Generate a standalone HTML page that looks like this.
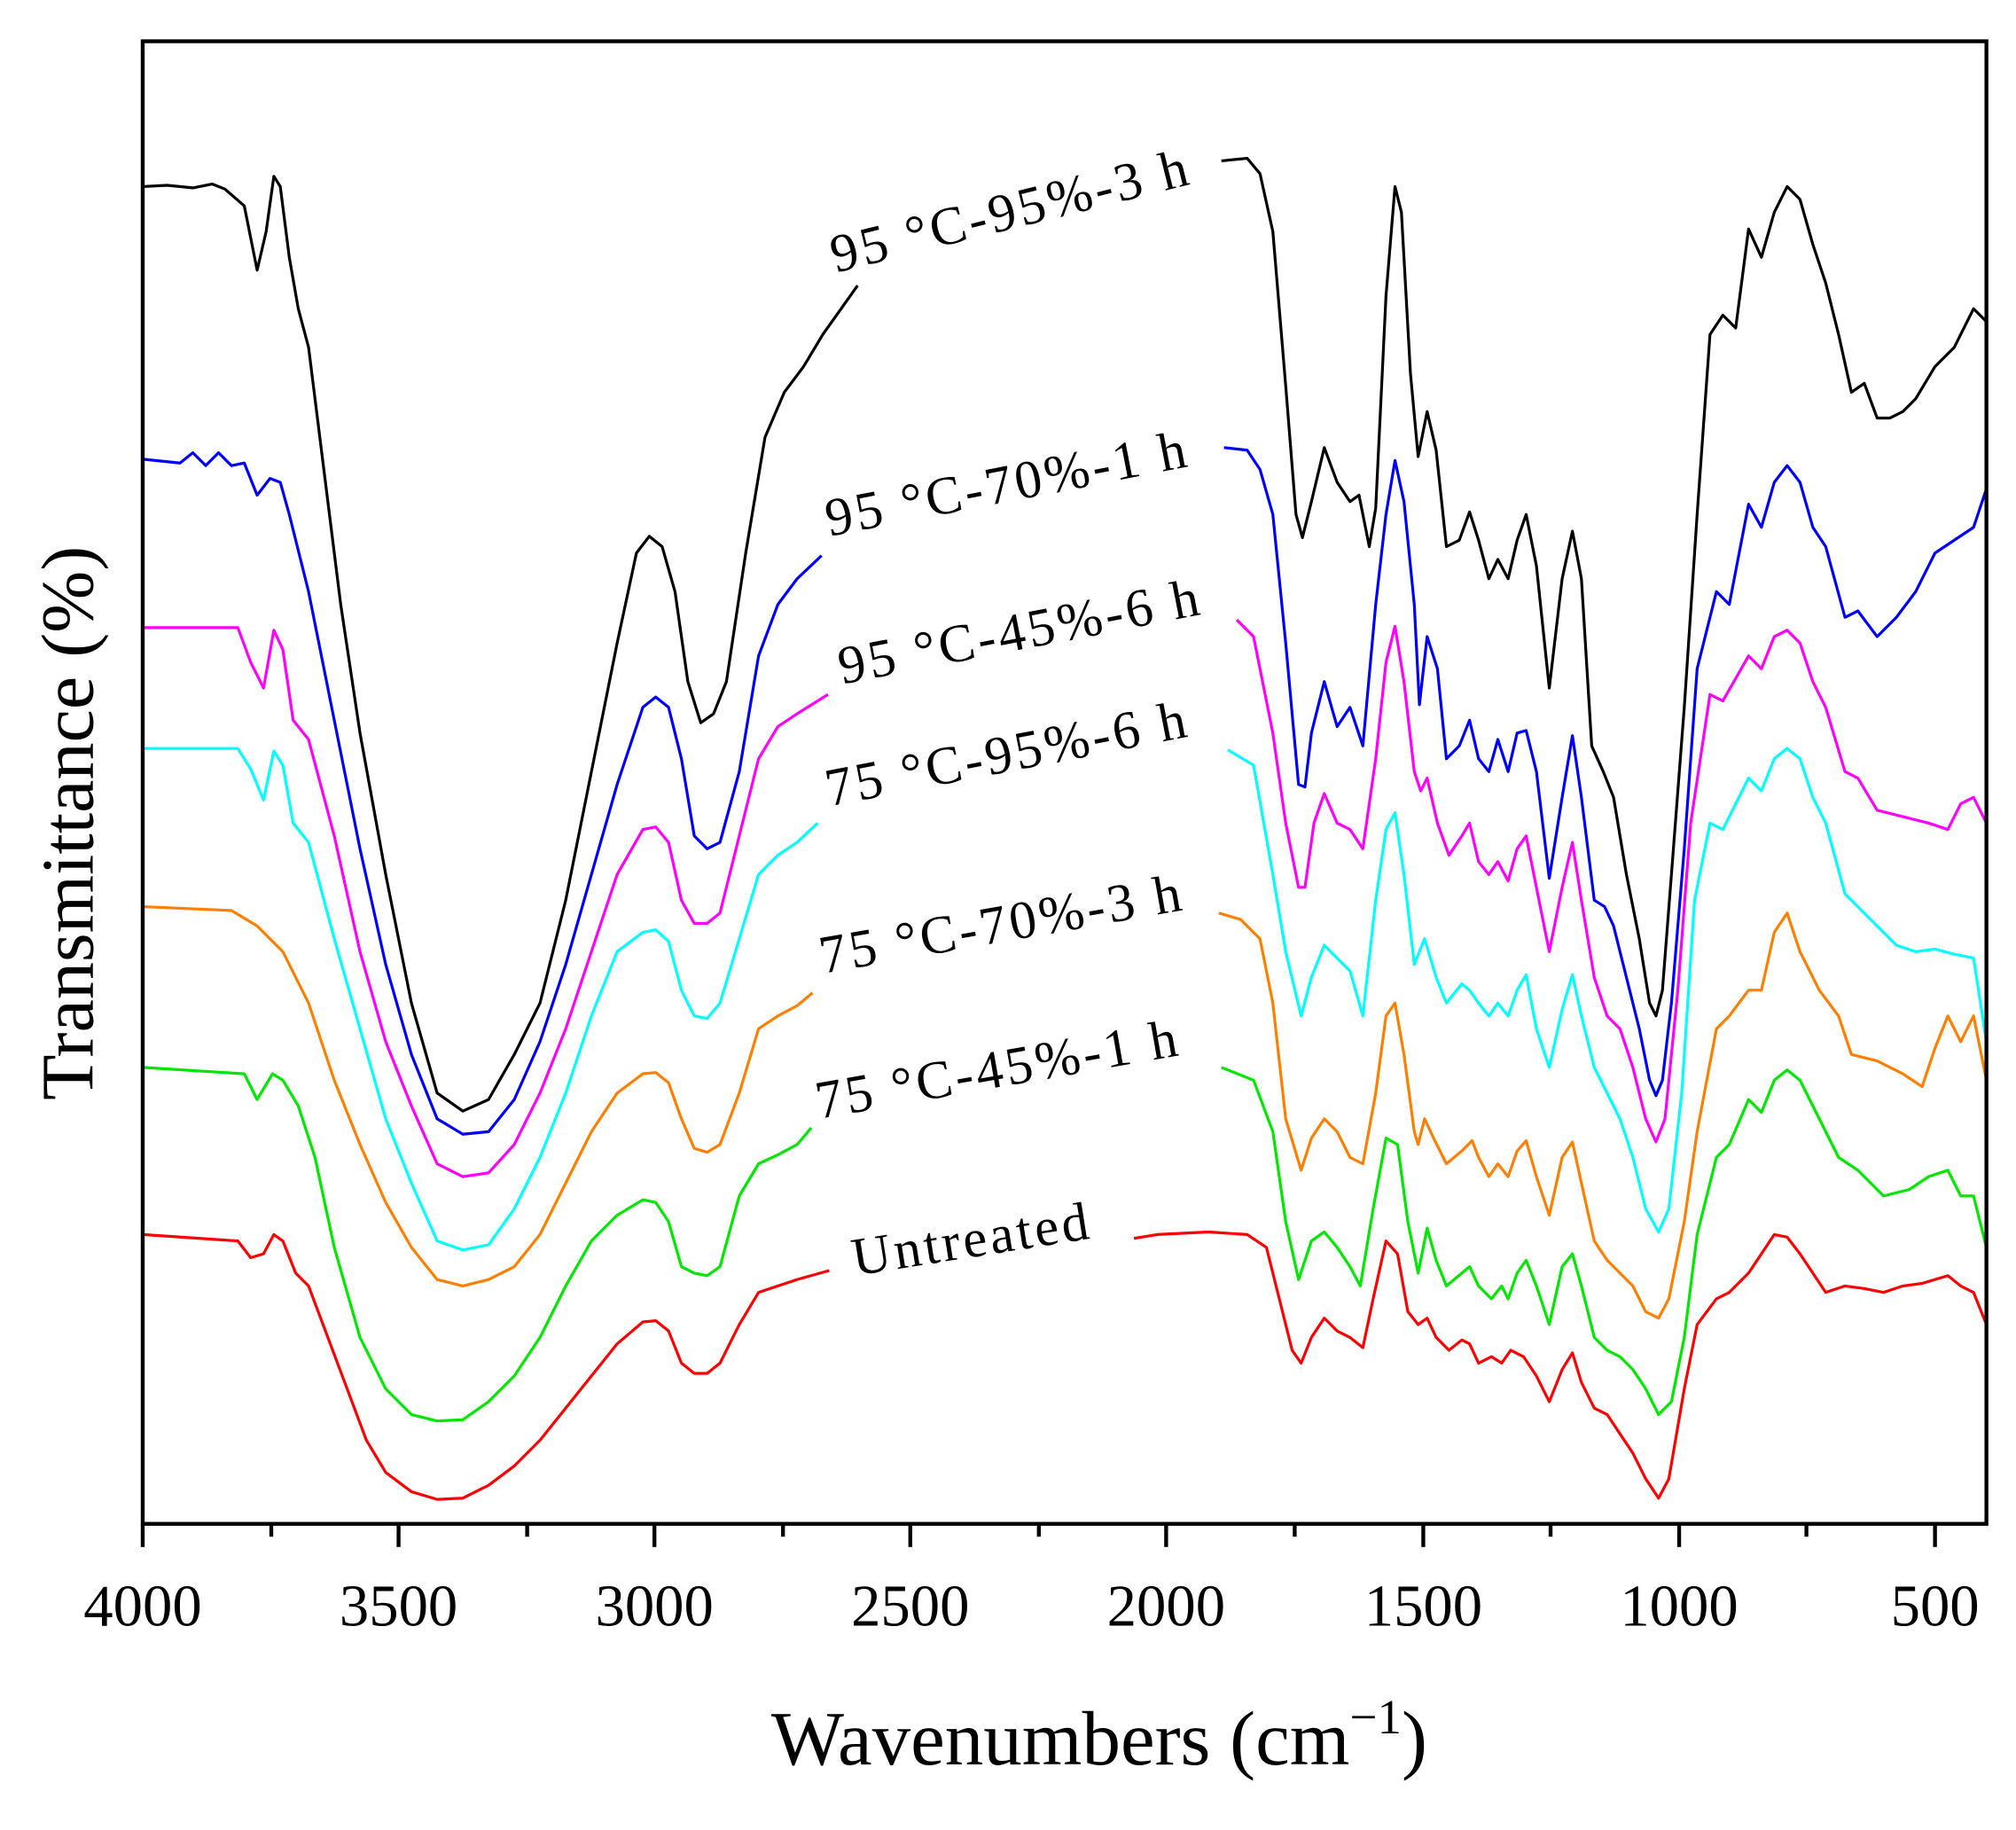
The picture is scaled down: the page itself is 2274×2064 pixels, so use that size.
<!DOCTYPE html>
<html><head><meta charset="utf-8"><style>html,body{margin:0;padding:0;background:#fff}svg{display:block}</style></head><body>
<svg width="2274" height="2064" viewBox="0 0 1568 1423" xmlns="http://www.w3.org/2000/svg" font-family="Liberation Serif, serif">
<rect width="1568" height="1423" fill="#fff"/>
<g fill="none" stroke-width="2.2" stroke-linejoin="round">
<polyline stroke="#000" points="111,145 130,144 150,146 165,143 175,147 190,160 200,210 207,180 213,137 218,145 225,200 232,240 240,270 250,350 265,470 280,570 300,680 320,780 340,850 360,864 380,855 400,820 420,780 440,700 460,600 480,500 495,430 505,417 515,425 525,460 535,530 545,562 555,555 565,530 580,430 595,340 610,305 625,285 640,260 667,222"/>
<polyline stroke="#000" points="950,125 970,123 980,135 990,180 1000,300 1008,400 1013,418 1020,390 1030,348 1040,375 1050,390 1057,385 1065,425 1070,395 1078,230 1085,145 1090,165 1097,290 1103,355 1110,320 1117,350 1125,425 1135,420 1143,398 1150,420 1158,450 1165,435 1173,450 1180,420 1187,400 1195,440 1205,535 1215,450 1223,413 1230,450 1238,580 1247,600 1255,620 1265,680 1275,730 1283,780 1288,790 1293,770 1300,680 1310,550 1320,400 1330,260 1340,245 1350,255 1360,178 1370,200 1380,165 1390,145 1400,155 1410,190 1420,220 1430,260 1440,305 1450,298 1460,325 1470,325 1480,320 1490,310 1505,285 1520,270 1535,240 1545,250"/>
<polyline stroke="#0000ff" points="111,357 140,360 150,352 160,362 170,352 180,362 190,360 200,385 210,372 218,375 225,400 240,460 260,560 280,660 300,750 320,820 340,870 360,882 380,880 400,855 420,810 440,750 460,680 480,610 500,550 510,542 520,550 530,590 540,650 550,660 560,655 575,600 590,510 605,470 620,450 639,432"/>
<polyline stroke="#0000ff" points="952,348 970,350 980,365 990,400 1000,500 1010,610 1015,612 1020,570 1030,530 1040,565 1050,550 1060,580 1070,470 1078,400 1085,358 1092,390 1100,470 1104,548 1110,495 1118,520 1125,590 1135,580 1143,560 1150,590 1158,600 1165,575 1173,600 1180,570 1187,568 1195,600 1205,683 1215,620 1223,572 1230,620 1240,700 1248,705 1255,720 1265,760 1275,800 1283,840 1288,852 1293,840 1300,780 1310,660 1320,520 1335,460 1345,470 1360,392 1370,410 1380,375 1390,362 1400,375 1410,410 1420,425 1435,480 1445,475 1460,495 1475,480 1490,460 1505,430 1520,420 1535,410 1545,380"/>
<polyline stroke="#ff00ff" points="111,488 185,488 195,515 205,535 213,490 220,505 228,560 240,575 260,650 280,740 300,810 320,860 340,905 360,915 380,912 400,890 420,850 440,800 460,740 480,680 500,645 510,643 520,655 530,700 540,718 550,718 560,710 575,650 590,590 605,565 620,555 644,540"/>
<polyline stroke="#ff00ff" points="962,482 975,495 990,570 1000,640 1010,690 1015,690 1022,640 1030,617 1040,640 1050,645 1060,660 1070,590 1078,515 1085,487 1092,530 1100,600 1105,615 1110,605 1118,640 1127,665 1137,650 1143,640 1150,670 1158,680 1165,670 1173,685 1180,660 1187,650 1195,690 1205,740 1215,690 1223,655 1230,700 1240,760 1250,790 1260,800 1270,830 1280,870 1288,888 1295,870 1305,770 1315,640 1330,540 1340,545 1360,510 1370,520 1380,495 1390,490 1400,500 1410,530 1420,550 1435,600 1445,605 1460,630 1480,635 1500,640 1515,645 1525,625 1535,620 1545,640"/>
<polyline stroke="#00ffff" points="111,582 185,582 195,598 205,622 213,584 220,595 228,640 240,655 260,730 280,800 300,870 320,920 340,965 360,972 380,968 400,940 420,900 440,850 460,790 480,740 500,725 510,723 520,732 530,770 540,790 550,792 560,780 575,730 590,680 605,665 620,655 636,640"/>
<polyline stroke="#00ffff" points="955,583 975,595 990,680 1000,740 1012,790 1020,760 1030,735 1040,745 1050,755 1060,790 1070,700 1078,645 1085,632 1092,680 1100,750 1108,730 1117,760 1125,780 1137,765 1143,770 1150,780 1158,790 1165,780 1173,790 1180,770 1187,758 1195,800 1205,830 1215,785 1223,758 1230,790 1240,830 1250,850 1260,870 1270,900 1280,940 1290,958 1298,940 1308,850 1318,700 1330,640 1340,645 1360,605 1370,615 1380,590 1390,582 1400,590 1410,620 1420,640 1435,695 1445,705 1460,720 1475,735 1490,740 1505,738 1520,742 1535,745 1545,810"/>
<polyline stroke="#ff8000" points="111,705 180,708 200,720 220,740 240,780 260,840 280,890 300,935 320,970 340,995 360,1000 380,995 400,985 420,960 440,920 460,880 480,850 500,835 510,834 520,842 530,870 540,893 550,896 560,890 575,850 590,800 605,790 620,782 632,772"/>
<polyline stroke="#ff8000" points="948,710 965,715 980,730 990,780 1000,870 1012,910 1020,885 1030,870 1040,880 1050,900 1060,905 1070,850 1078,790 1085,780 1092,820 1100,880 1103,890 1108,870 1115,885 1125,905 1137,895 1145,887 1150,900 1158,915 1165,905 1173,915 1180,895 1187,887 1195,915 1205,945 1215,900 1223,888 1230,920 1240,965 1250,980 1260,990 1270,1000 1280,1020 1290,1025 1298,1010 1310,950 1320,880 1335,800 1345,790 1360,770 1370,770 1380,725 1390,710 1400,740 1415,770 1430,790 1440,820 1460,825 1480,835 1495,845 1505,815 1515,790 1525,810 1535,790 1545,840"/>
<polyline stroke="#00e600" points="111,830 190,835 200,855 212,835 220,840 232,860 245,900 260,970 280,1040 300,1080 320,1100 340,1105 360,1104 380,1090 400,1070 420,1040 440,1000 460,965 480,945 500,933 510,935 520,950 530,985 540,990 550,992 560,985 575,930 590,905 605,898 620,890 631,877"/>
<polyline stroke="#00e600" points="950,830 975,840 990,880 1000,950 1010,995 1020,965 1030,958 1040,970 1050,985 1058,1000 1068,940 1078,885 1087,890 1095,950 1103,990 1110,955 1117,980 1125,1000 1137,990 1143,985 1150,1000 1160,1010 1168,1000 1173,1010 1180,990 1187,980 1195,1000 1205,1030 1215,985 1223,975 1230,1000 1240,1040 1250,1050 1260,1055 1270,1065 1280,1080 1290,1100 1300,1090 1310,1040 1320,960 1335,900 1345,890 1360,855 1370,865 1380,840 1390,832 1400,840 1415,870 1430,900 1445,910 1465,930 1485,925 1500,915 1515,910 1525,930 1535,930 1545,970"/>
<polyline stroke="#ff0000" points="111,960 185,965 195,978 205,975 213,960 220,965 230,990 240,1000 255,1040 270,1080 285,1120 300,1145 320,1160 340,1166 360,1165 380,1155 400,1140 420,1120 440,1095 460,1070 480,1045 500,1028 510,1027 520,1035 530,1060 540,1068 550,1068 560,1060 575,1030 590,1005 605,1000 620,995 645,988"/>
<polyline stroke="#ff0000" points="882,963 900,960 940,958 970,960 985,970 995,1010 1005,1050 1012,1060 1020,1040 1030,1025 1040,1035 1050,1040 1060,1048 1068,1010 1078,965 1087,975 1095,1020 1103,1030 1110,1025 1117,1040 1127,1050 1137,1042 1143,1045 1150,1060 1160,1055 1168,1060 1175,1050 1185,1055 1195,1070 1205,1090 1215,1065 1223,1052 1230,1075 1240,1095 1250,1100 1260,1115 1270,1130 1280,1150 1290,1165 1298,1150 1310,1080 1320,1030 1335,1010 1345,1005 1360,990 1370,975 1380,960 1390,962 1400,975 1410,990 1420,1005 1435,1000 1450,1002 1465,1005 1480,1000 1495,998 1505,995 1515,992 1525,1000 1535,1005 1545,1030"/>
</g>
<g font-size="42" fill="#000" letter-spacing="2.5">
<text transform="translate(650,212) rotate(-14)">95 °C-95%-3 h</text>
<text transform="translate(645,417) rotate(-11)">95 °C-70%-1 h</text>
<text transform="translate(655,532) rotate(-11)">95 °C-45%-6 h</text>
<text transform="translate(645,627) rotate(-11)">75 °C-95%-6 h</text>
<text transform="translate(640,757) rotate(-10)">75 °C-70%-3 h</text>
<text transform="translate(637,870) rotate(-10)">75 °C-45%-1 h</text>
<text transform="translate(665,992) rotate(-9)">Untreated</text>
</g>
<rect x="111" y="32" width="1434" height="1153" fill="none" stroke="#000" stroke-width="3"/>
<g stroke="#000" stroke-width="3">
<line x1="111" y1="1185" x2="111" y2="1203"/><line x1="310" y1="1185" x2="310" y2="1203"/><line x1="509" y1="1185" x2="509" y2="1203"/><line x1="708" y1="1185" x2="708" y2="1203"/><line x1="907" y1="1185" x2="907" y2="1203"/><line x1="1107" y1="1185" x2="1107" y2="1203"/><line x1="1306" y1="1185" x2="1306" y2="1203"/><line x1="1505" y1="1185" x2="1505" y2="1203"/>
<line x1="211" y1="1185" x2="211" y2="1195"/><line x1="410" y1="1185" x2="410" y2="1195"/><line x1="609" y1="1185" x2="609" y2="1195"/><line x1="808" y1="1185" x2="808" y2="1195"/><line x1="1007" y1="1185" x2="1007" y2="1195"/><line x1="1206" y1="1185" x2="1206" y2="1195"/><line x1="1405" y1="1185" x2="1405" y2="1195"/>
</g>
<g font-size="46" text-anchor="middle" fill="#000">
<text x="111" y="1264">4000</text><text x="310" y="1264">3500</text><text x="509" y="1264">3000</text><text x="708" y="1264">2500</text><text x="907" y="1264">2000</text><text x="1107" y="1264">1500</text><text x="1306" y="1264">1000</text><text x="1505" y="1264">500</text>
</g>
<text x="855" y="1372" font-size="60" text-anchor="middle">Wavenumbers (cm<tspan dy="-24" font-size="38">−1</tspan><tspan dy="24">)</tspan></text>
<text transform="translate(72,640) rotate(-90)" font-size="58" text-anchor="middle">Transmittance (%)</text>
</svg>
</body></html>
